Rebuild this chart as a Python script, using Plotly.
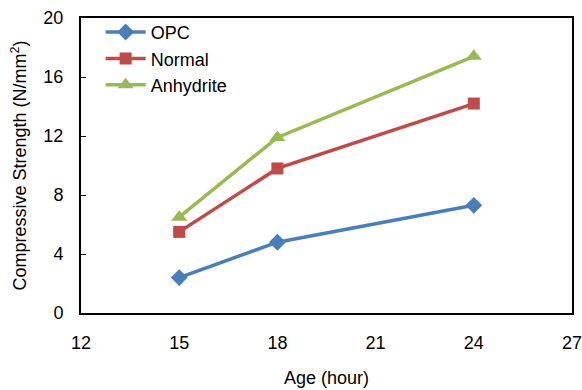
import plotly.graph_objects as go

# Curing age (hours) and compressive strength (N/mm²) per binder
age_hours = [15, 18, 24]
opc_strength = [2.4, 4.8, 7.3]
normal_strength = [5.5, 9.8, 14.2]
anhydrite_strength = [6.5, 11.9, 17.4]

x_ticks = [12, 15, 18, 21, 24, 27]
y_ticks = [0, 4, 8, 12, 16, 20]

series = [
    ("OPC", opc_strength, "#4A7EBB", "diamond", 13),
    ("Normal", normal_strength, "#BE4B48", "square", 12),
    ("Anhydrite", anhydrite_strength, "#98B954", "triangle-up", 14),
]

fig = go.Figure()
for name, vals, color, symbol, size in series:
    fig.add_trace(go.Scatter(
        x=age_hours, y=vals, name=name, mode="lines+markers",
        line=dict(color=color, width=3.5),
        marker=dict(symbol=symbol, size=size, color=color),
    ))

base_font = dict(family="Liberation Sans, Arial, sans-serif", size=18, color="black")

fig.update_layout(
    width=582, height=390,
    margin=dict(l=81, r=10, t=18, b=77),
    paper_bgcolor="white", plot_bgcolor="white",
    font=base_font,
    showlegend=True,
    legend=dict(
        x=0.04, y=1.014, xanchor="left", yanchor="top",
        bgcolor="rgba(0,0,0,0)", font=dict(size=18, color="black"),
        itemwidth=40,
    ),
    xaxis=dict(
        range=[12, 27], tickvals=x_ticks, ticks="", showgrid=False,
        zeroline=False, showline=True, linecolor="black", linewidth=2,
        mirror=True, tickfont=base_font, ticklabelstandoff=12,
        automargin=False, ticklabeloverflow="allow",
        title=dict(text="Age (hour)", font=dict(size=18), standoff=20),
    ),
    yaxis=dict(
        range=[0, 20], tickvals=y_ticks, ticks="inside", ticklen=5,
        tickcolor="black", showgrid=False, zeroline=False, showline=True,
        linecolor="black", linewidth=2, mirror=True, tickfont=base_font,
        ticklabelstandoff=12, automargin=False, ticklabeloverflow="allow",
        title=dict(text="Compressive Strength (N/mm<sup>2</sup>)",
                   font=dict(size=18), standoff=12),
    ),
)

fig.write_html("out.html")
